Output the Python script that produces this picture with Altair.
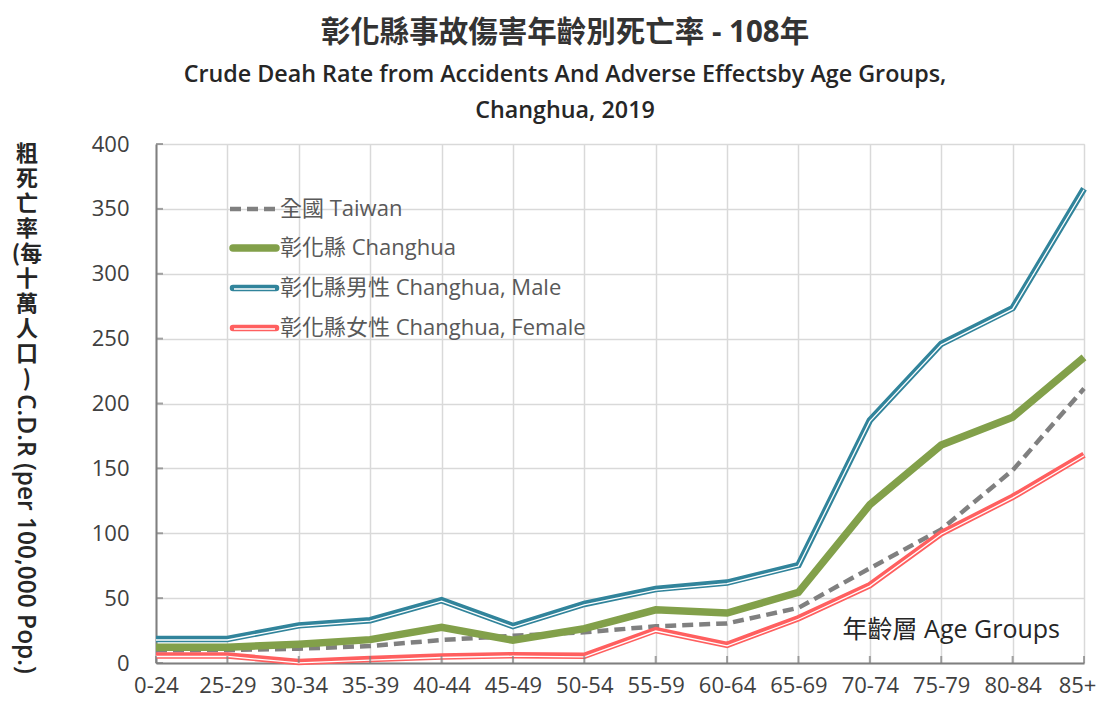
import altair as alt
import pandas as pd

ages = ["0-24", "25-29", "30-34", "35-39", "40-44", "45-49", "50-54",
        "55-59", "60-64", "65-69", "70-74", "75-79", "80-84", "85+"]
taiwan = [9.8, 10.0, 11.0, 13.1, 17.7, 21.0, 23.6, 28.3, 30.5, 42.5, 73.0, 103.0, 148.5, 211.5]
changhua = [12.2, 12.2, 14.5, 18.0, 27.5, 17.5, 26.5, 41.0, 38.5, 54.5, 122.0, 168.0, 189.5, 235.5]
male = [18.5, 18.5, 29.0, 33.0, 48.5, 28.5, 45.5, 57.0, 62.0, 75.5, 187.0, 246.0, 273.5, 365.5]
female = [5.8, 5.8, 0.8, 3.0, 5.0, 6.0, 5.5, 25.4, 14.0, 34.5, 60.0, 100.0, 128.0, 160.5]
y_ticks = [0, 50, 100, 150, 200, 250, 300, 350, 400]

series_names = ["全國 Taiwan", "彰化縣 Changhua", "彰化縣男性 Changhua, Male", "彰化縣女性 Changhua, Female"]
series_values = [taiwan, changhua, male, female]

rows = []
for name, vals in zip(series_names, series_values):
    for a, v in zip(ages, vals):
        rows.append({"age": a, "series": name, "value": v})
df = pd.DataFrame(rows)

CJK = "Noto Sans CJK TC"
FONT = "'Open Sans', 'Noto Sans CJK TC', sans-serif"
GRAY = "#808080"
GREEN = "#82a04a"
BLUE = "#31849b"
RED = "#ff5f5f"

x_enc = alt.X("age:N", sort=ages, title=None,
              scale=alt.Scale(type="point", padding=0),
              axis=alt.Axis(labelAngle=0, labelFontSize=22, labelColor="#404040", labelFont=FONT,
                            labelPadding=12, ticks=False, tickSize=0, grid=True,
                            labelOffset={"condition": {"test": "datum.label == '85+'", "value": -7},
                                         "value": 0},
                            gridColor="#d9d9d9", gridWidth=1.5, domainColor="#7f7f7f",
                            domainWidth=2))
y_enc = alt.Y("value:Q", title=None, scale=alt.Scale(domain=[0, 400], nice=False),
              axis=alt.Axis(values=y_ticks, labelFontSize=22, labelColor="#404040", labelFont=FONT,
                            labelPadding=27, ticks=False, tickSize=0, grid=True,
                            gridColor="#d9d9d9", gridWidth=1.5, domainColor="#7f7f7f",
                            domainWidth=2))

base = alt.Chart(df).encode(x=x_enc, y=y_enc)

def line_of(name, **kw):
    return base.transform_filter(alt.datum.series == name).mark_line(**kw)

l_tw = line_of(series_names[0], color=GRAY, strokeWidth=4.5, strokeDash=[11, 6], strokeCap="butt")
l_ch = line_of(series_names[1], color=GREEN, strokeWidth=7.5)
l_m = line_of(series_names[2], color=BLUE, strokeWidth=6.5)
l_m2 = line_of(series_names[2], color="white", strokeWidth=1.3, yOffset=1)
l_f = line_of(series_names[3], color=RED, strokeWidth=6.5)
l_f2 = line_of(series_names[3], color="white", strokeWidth=1.3, yOffset=1)

# inward tick marks
xt_df = pd.DataFrame({"age": ages, "value": [0] * len(ages)})
x_ticks = alt.Chart(xt_df).mark_tick(orient="vertical", size=7, thickness=2, color="#7f7f7f",
                                     yOffset=-3.5).encode(x=alt.X("age:N", sort=ages), y="value:Q")
yt_df = pd.DataFrame({"age": [ages[0]] * len(y_ticks), "value": y_ticks})
y_ticks_m = alt.Chart(yt_df).mark_tick(orient="horizontal", size=7, thickness=2, color="#7f7f7f",
                                       xOffset=3.5).encode(x=alt.X("age:N", sort=ages), y="value:Q")

# legend (manual)
leg_y = [65, 104, 144, 184]
leg_layers = []
one = pd.DataFrame({"k": [0]})
for i, name in enumerate(series_names):
    yy = leg_y[i]
    if i == 0:
        leg_layers.append(alt.Chart(one).mark_rule(color=GRAY, strokeWidth=4.5, strokeDash=[11, 6]).encode(
            x=alt.value(74), x2=alt.value(122), y=alt.value(yy)))
    elif i == 1:
        leg_layers.append(alt.Chart(one).mark_rule(color=GREEN, strokeWidth=7.5, strokeCap="round").encode(
            x=alt.value(77), x2=alt.value(120), y=alt.value(yy)))
    else:
        c = BLUE if i == 2 else RED
        leg_layers.append(alt.Chart(one).mark_rule(color=c, strokeWidth=6.5, strokeCap="round").encode(
            x=alt.value(77), x2=alt.value(120), y=alt.value(yy)))
        leg_layers.append(alt.Chart(one).mark_rule(color="white", strokeWidth=1.3).encode(
            x=alt.value(78), x2=alt.value(119), y=alt.value(yy + 1)))
    leg_layers.append(alt.Chart(one).mark_text(text=name, font=FONT, fontSize=22, color="#595959",
                                               align="left", baseline="middle").encode(
        x=alt.value(124), y=alt.value(yy)))

# annotation: age group label
age_lbl = alt.Chart(one).mark_text(text="年齡層 Age Groups", font=FONT, fontSize=25, color="#262626",
                                   align="right", baseline="middle").encode(
    x=alt.value(904), y=alt.value(486))

# y-axis title: stacked CJK + rotated latin
ytitle_cjk = alt.Chart(one).mark_text(text=["粗", "死", "亡", "率", "(每", "十", "萬", "人", "口", ")"],
                                      font=CJK, fontSize=22, fontWeight="bold", color="#262626",
                                      align="center", baseline="top", lineHeight=25).encode(
    x=alt.value(-129), y=alt.value(0))
ytitle_lat = alt.Chart(one).mark_text(text="C.D.R (per 100,000 Pop.)", font=FONT, fontSize=24.5,
                                      fontWeight=600, color="#262626", angle=90,
                                      align="left", baseline="middle").encode(
    x=alt.value(-131), y=alt.value(250))

chart = alt.layer(
    l_tw, l_ch, l_m, l_m2, l_f, l_f2, x_ticks, y_ticks_m, age_lbl, ytitle_cjk, ytitle_lat, *leg_layers
).properties(
    width=928, height=519,
    title=alt.TitleParams(
        text="彰化縣事故傷害年齡別死亡率 - 108年",
        subtitle=["Crude Deah Rate from Accidents And Adverse Effectsby Age Groups,", "Changhua, 2019"],
        font=FONT, fontSize=29.5, fontWeight="bold", color="#333333",
        subtitleFont=FONT, subtitleFontSize=23.3, subtitleFontWeight=600, subtitleColor="#262626",
        subtitleLineHeight=36, subtitlePadding=15, anchor="middle", dx=-55, offset=10,
    ),
    autosize=alt.AutoSizeParams(type="none"),
    padding={"left": 148, "top": 136, "right": 12, "bottom": 36},
).configure_view(stroke=None).configure(background="white")

chart.save("out.html", embed_options={"renderer": "svg", "actions": False})
